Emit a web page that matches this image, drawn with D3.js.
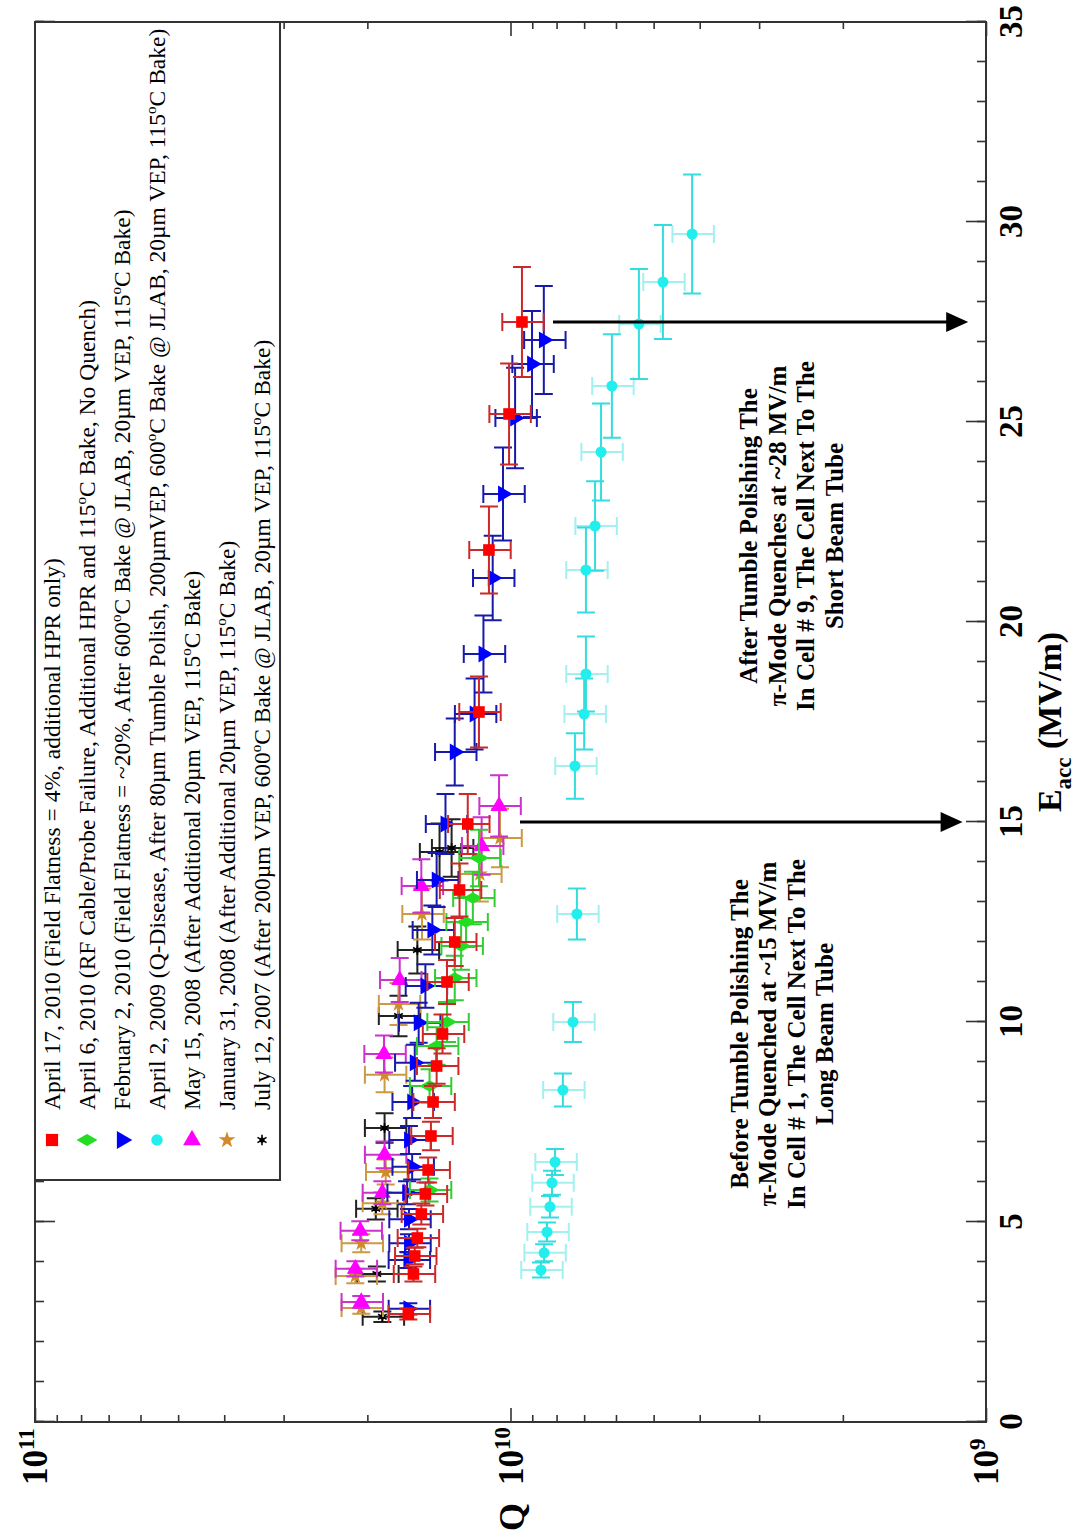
<!DOCTYPE html>
<html>
<head>
<meta charset="utf-8">
<script src="https://cdn.jsdelivr.net/npm/d3@7"></script>
<style>
  html, body { margin: 0; padding: 0; background: #fff; }
  svg { display: block; }
</style>
</head>
<body>
<script>
// ---- Q0 vs E_acc measurements, one pair of arrays per cavity test ----
const apr17E = [2.7, 3.7, 4.15, 4.6, 5.2, 5.7, 6.3, 7.15, 8.0, 8.9, 9.7, 11.0, 12.0, 13.3, 14.95, 17.75, 21.8, 25.2, 27.5];
const apr17Q = [1.64e10, 1.60e10, 1.59e10, 1.57e10, 1.54e10, 1.51e10, 1.49e10, 1.47e10, 1.455e10, 1.43e10, 1.39e10, 1.36e10, 1.31e10, 1.28e10, 1.23e10, 1.165e10, 1.11e10, 1.007e10, 9.46e9];

const apr6E = [5.8, 8.4, 9.4, 10.0, 11.1, 11.9, 12.5, 13.1, 14.1];
const apr6Q = [1.48e10, 1.48e10, 1.43e10, 1.36e10, 1.31e10, 1.27e10, 1.24e10, 1.20e10, 1.165e10];

const feb2E = [2.83, 4.05, 4.47, 5.07, 5.73, 6.38, 7.05, 8.0, 8.98, 9.98, 10.9, 12.3, 13.55, 14.95, 16.75, 17.7, 19.2, 21.1, 23.2, 25.1, 26.45, 27.05];
const feb2Q = [1.64e10, 1.64e10, 1.635e10, 1.635e10, 1.65e10, 1.61e10, 1.635e10, 1.61e10, 1.59e10, 1.56e10, 1.51e10, 1.46e10, 1.43e10, 1.37e10, 1.31e10, 1.19e10, 1.14e10, 1.09e10, 1.037e10, 9.78e9, 9.01e9, 8.51e9];

const apr2E = [3.8, 4.23, 4.75, 5.38, 5.98, 6.5, 8.3, 10.0, 12.7, 16.4, 17.7, 18.7, 21.3, 22.4, 24.25, 25.9, 27.45, 28.5, 29.7];
const apr2Q = [8.63e9, 8.50e9, 8.38e9, 8.26e9, 8.18e9, 8.06e9, 7.76e9, 7.39e9, 7.25e9, 7.32e9, 7.00e9, 6.94e9, 6.94e9, 6.64e9, 6.45e9, 6.12e9, 5.37e9, 4.78e9, 4.15e9];

const may15E = [3.0, 3.83, 4.78, 5.73, 6.68, 9.2, 11.05, 13.4, 14.4, 15.4];
const may15Q = [2.06e10, 2.12e10, 2.07e10, 1.86e10, 1.84e10, 1.845e10, 1.71e10, 1.54e10, 1.15e10, 1.057e10];

const jan31E = [2.85, 3.65, 4.47, 5.47, 6.25, 8.68, 10.45, 12.7, 13.7, 14.6];
const jan31Q = [2.06e10, 2.12e10, 2.06e10, 1.86e10, 1.83e10, 1.84e10, 1.72e10, 1.535e10, 1.16e10, 1.052e10];

const jul12E = [2.63, 3.7, 5.33, 7.35, 10.15, 11.8, 14.25, 14.35];
const jul12Q = [1.86e10, 1.91e10, 1.92e10, 1.84e10, 1.72e10, 1.57e10, 1.41e10, 1.33e10];

// relative measurement uncertainties (E_acc, Q0)
const errE = 0.05;
const errQ = 0.10;

const legendLabels = [
  "April 17, 2010 (Field Flatness = 4%, additional HPR only)",
  "April 6, 2010 (RF Cable/Probe Failure, Additional HPR and 115°C Bake, No Quench)",
  "February 2, 2010 (Field Flatness = ~20%, After 600°C Bake @ JLAB, 20µm VEP, 115°C Bake)",
  "April 2, 2009 (Q-Disease, After 80µm Tumble Polish, 200µmVEP, 600°C Bake @ JLAB, 20µm VEP, 115°C Bake)",
  "May 15, 2008 (After Additional 20µm VEP, 115°C Bake)",
  "January 31, 2008 (After Additional 20µm VEP, 115°C Bake)",
  "July 12, 2007 (After 200µm VEP, 600°C Bake @ JLAB, 20µm VEP, 115°C Bake)"
];

const eTicks = [0, 5, 10, 15, 20, 25, 30, 35];
const qMajorTicks = [1e9, 1e10, 1e11];
const qTickExponents = ["9", "10", "11"];

// quench markers: E_acc of the quench, Q range spanned by the arrow
const arrowE = [15, 27.5];
const arrowQFrom = [9.55e9, 8.14e9];
const arrowQTo = [1.12e9, 1.09e9];

const noteLines = [
  ["Before Tumble Polishing The", "\u03c0-Mode Quenched at ~15 MV/m", "In Cell # 1, The Cell Next To The", "Long Beam Tube"],
  ["After Tumble Polishing The", "\u03c0-Mode Quenches at ~28 MV/m", "In Cell # 9, The Cell Next To The", "Short Beam Tube"]
];
const noteE = [9.7, 22.15];
const noteQ = [3.17e9, 3.03e9];

// ---- drawing ----
const W = 1076, H = 1537;
const serif = '"Liberation Serif", "Times New Roman", Times, serif';

const svg = d3.select("body").append("svg")
  .attr("width", W).attr("height", H)
  .attr("font-family", serif);

// the whole chart is laid out sideways: E_acc runs up the page, Q0 across it
const g = svg.append("g").attr("transform", `translate(0,${H}) rotate(-90)`);

const x = d3.scaleLinear().domain([0, 35]).range([115, 1515]);
const y = d3.scaleLog().domain([1e9, 1e11]).range([986, 35]);

const x0 = x.range()[0], x1 = x.range()[1];
const y0 = y.range()[1], y1 = y.range()[0];

const axisColor = "#333";

// E_acc axes (bottom with labels, top mirror)
const eMinor = d3.range(0, 36);
function styleAxis(sel) {
  sel.select(".domain").remove();
  sel.selectAll(".tick line").attr("stroke", axisColor).attr("stroke-width", 1.6);
}
g.append("g").attr("transform", `translate(0,${y1})`)
  .call(d3.axisBottom(x).tickValues(eMinor).tickSize(-9).tickFormat(""))
  .call(styleAxis);
g.append("g").attr("transform", `translate(0,${y0})`)
  .call(d3.axisTop(x).tickValues(eMinor).tickSize(-9).tickFormat(""))
  .call(styleAxis);
g.append("g").attr("transform", `translate(0,${y0})`)
  .call(d3.axisTop(x).tickValues(eTicks).tickSize(-20).tickFormat(""))
  .call(styleAxis);
const eAxis = g.append("g").attr("transform", `translate(0,${y1})`)
  .call(d3.axisBottom(x).tickValues(eTicks).tickSize(-20).tickPadding(14).tickFormat(d3.format("d")))
  .call(styleAxis);
eAxis.selectAll(".tick text")
  .attr("fill", "#000").attr("font-family", serif).attr("font-weight", "bold")
  .attr("font-size", 33).attr("dy", "0.68em");

// Q0 axes (log), minor ticks at 2..9 per decade
const qMinor = [];
[1e9, 1e10].forEach(d => { for (let k = 2; k <= 9; k++) qMinor.push(k * d); });
g.append("g").attr("transform", `translate(${x0},0)`)
  .call(d3.axisLeft(y).tickValues(qMinor).tickSize(-7).tickFormat(""))
  .call(styleAxis);
g.append("g").attr("transform", `translate(${x1},0)`)
  .call(d3.axisRight(y).tickValues(qMinor).tickSize(-7).tickFormat(""))
  .call(styleAxis);
g.append("g").attr("transform", `translate(${x0},0)`)
  .call(d3.axisLeft(y).tickValues(qMajorTicks).tickSize(-14).tickFormat(""))
  .call(styleAxis);
g.append("g").attr("transform", `translate(${x1},0)`)
  .call(d3.axisRight(y).tickValues(qMajorTicks).tickSize(-14).tickFormat(""))
  .call(styleAxis);

qMajorTicks.forEach((q, i) => {
  const t = g.append("text")
    .attr("x", 52).attr("y", y(q) + 12)
    .attr("font-weight", "bold").attr("font-size", 35).attr("fill", "#000");
  t.append("tspan").text("10");
  t.append("tspan").attr("font-size", 23).attr("dy", -13).text(qTickExponents[i]);
});

// plot frame
g.append("rect")
  .attr("x", x0).attr("y", y0).attr("width", x1 - x0).attr("height", y1 - y0)
  .attr("fill", "none").attr("stroke", axisColor).attr("stroke-width", 2);

// axis titles
const eTitle = g.append("text")
  .attr("x", (x0 + x1) / 2).attr("y", 1061)
  .attr("text-anchor", "middle").attr("font-weight", "bold").attr("font-size", 34).attr("fill", "#000");
eTitle.append("tspan").text("E");
eTitle.append("tspan").attr("font-size", 23).attr("dy", 10).text("acc");
eTitle.append("tspan").attr("dy", -10).text(" (MV/m)");

g.append("text")
  .attr("x", 20).attr("y", (y0 + y1) / 2 + 13)
  .attr("text-anchor", "middle").attr("font-weight", "bold").attr("font-size", 36).attr("fill", "#000")
  .text("Q");

// ---- markers ----
const markerColors = ["#ff0000", "#22dd22", "#0000ff", "#22eeee", "#ff00ff", "#d08a2a", "#000000"];
const barColors = ["#cc2a2a", "#33cc33", "#1a1aaa", "#33dddd", "#cc33cc", "#cc9944", "#222222"];
const shapes = [
  { type: d3.symbolSquare, size: 135, rot: 0, fill: true },
  { type: d3.symbolDiamond, size: 115, rot: 0, fill: true },
  { type: d3.symbolTriangle, size: 125, rot: 180, fill: true },
  { type: d3.symbolCircle, size: 95, rot: 0, fill: true },
  { type: d3.symbolTriangle, size: 125, rot: 90, fill: true },
  { type: d3.symbolStar, size: 80, rot: 90, fill: true },
  { type: d3.symbolAsterisk, size: 70, rot: 90, fill: false }
];
const qBarOpacity = [1, 1, 1, 0.45, 1, 1, 1];

const seriesE = [apr17E, apr6E, feb2E, apr2E, may15E, jan31E, jul12E];
const seriesQ = [apr17Q, apr6Q, feb2Q, apr2Q, may15Q, jan31Q, jul12Q];

function drawMarker(sel, i, scale) {
  const s = shapes[i];
  const p = sel.append("path")
    .attr("d", d3.symbol(s.type, s.size * (scale || 1))())
    .attr("transform", `rotate(${s.rot})`);
  if (s.fill) p.attr("fill", markerColors[i]);
  else {
    p.attr("fill", "none").attr("stroke", markerColors[i]).attr("stroke-width", 1.6);
    sel.append("circle").attr("r", 2.6).attr("fill", markerColors[i]);
  }
}

const cap = 9;
const plot = g.append("g");
for (let i = seriesE.length - 1; i >= 0; i--) {
  const pts = seriesE[i].map((e, k) => ({ e, q: seriesQ[i][k] }));
  const sg = plot.append("g");
  const bars = sg.append("g").attr("stroke", barColors[i]).attr("stroke-width", 2).attr("fill", "none");
  pts.forEach(d => {
    const cx = x(d.e), cy = y(d.q);
    const ea = x(d.e * (1 - errE)), eb = x(d.e * (1 + errE));
    const qa = y(d.q * (1 + errQ)), qb = y(d.q * (1 - errQ));
    // E_acc error bar
    bars.append("path").attr("d", `M${ea},${cy}H${eb}M${ea},${cy - cap}V${cy + cap}M${eb},${cy - cap}V${cy + cap}`);
    // Q0 error bar
    bars.append("path").attr("stroke-opacity", qBarOpacity[i])
      .attr("d", `M${cx},${qa}V${qb}M${cx - cap},${qa}H${cx + cap}M${cx - cap},${qb}H${cx + cap}`);
  });
  pts.forEach(d => {
    const m = sg.append("g").attr("transform", `translate(${x(d.e)},${y(d.q)})`);
    drawMarker(m, i, 1);
  });
}

// ---- quench arrows ----
arrowE.forEach((e, i) => {
  const u = x(e), v0 = y(arrowQFrom[i]), v1 = y(arrowQTo[i]);
  g.append("line").attr("x1", u).attr("x2", u).attr("y1", v0).attr("y2", v1 - 18)
    .attr("stroke", "#000").attr("stroke-width", 3);
  g.append("path").attr("d", `M${u - 10},${v1 - 22}L${u + 10},${v1 - 22}L${u},${v1}Z`).attr("fill", "#000");
});

// ---- notes ----
noteLines.forEach((lines, i) => {
  const t = g.append("text")
    .attr("text-anchor", "middle").attr("font-weight", "bold").attr("font-size", 25).attr("fill", "#000");
  lines.forEach((s, k) => {
    t.append("tspan").attr("x", x(noteE[i])).attr("y", y(noteQ[i]) + k * 28.5).text(s);
  });
});

// ---- legend ----
const legX = 357, legY = y0, legW = x1 - legX, legH = 245;
const leg = g.append("g");
leg.append("rect").attr("x", legX).attr("y", legY).attr("width", legW).attr("height", legH)
  .attr("fill", "#fff").attr("stroke", axisColor).attr("stroke-width", 2);

function richText(t, str) {
  str.split("\u00b0").forEach((part, k) => {
    if (k > 0) {
      t.append("tspan").attr("font-size", 15).attr("dy", -9).text("o");
      t.append("tspan").attr("dy", 9).text(part);
    } else {
      t.append("tspan").text(part);
    }
  });
}

legendLabels.forEach((lab, i) => {
  const v = 52 + i * 35;
  const m = leg.append("g").attr("transform", `translate(${legX + 40},${v})`);
  drawMarker(m, i, 1.1);
  const t = leg.append("text").attr("x", legX + 70).attr("y", v + 8)
    .attr("font-size", 23.5).attr("fill", "#000");
  richText(t, lab);
});
</script>
</body>
</html>
